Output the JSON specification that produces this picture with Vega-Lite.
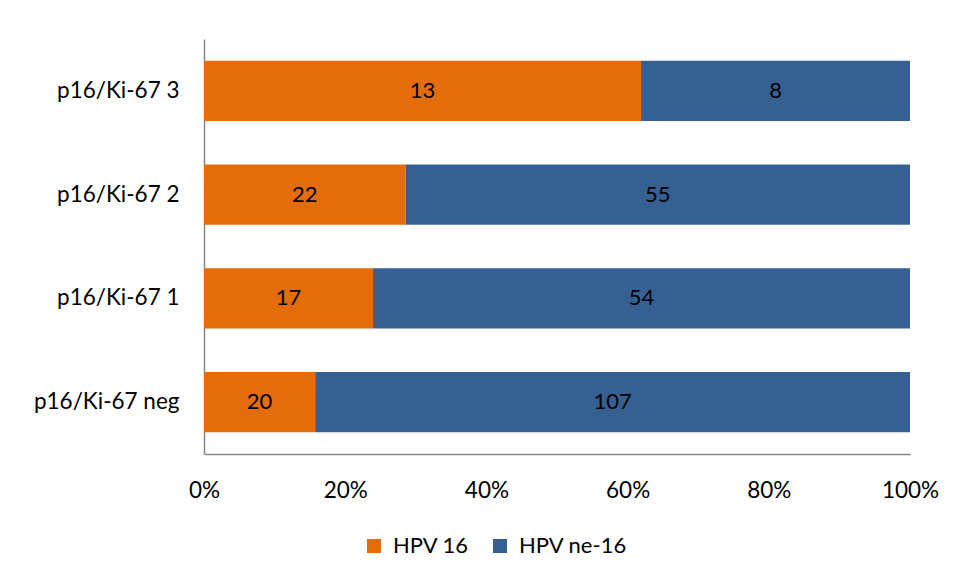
{
  "$schema": "https://vega.github.io/schema/vega-lite/v6.json",
  "autosize": {"type": "none"},
  "width": 706,
  "height": 415,
  "padding": {"left": 204, "top": 39, "right": 49, "bottom": 125},
  "background": "white",
  "config": {
    "font": "Lato",
    "view": {"stroke": null},
    "axis": {"labelFont": "Lato", "labelFontSize": 22.5, "labelColor": "#000000", "grid": false, "ticks": false, "domainColor": "#868686", "domainWidth": 1.5, "title": null},
    "legend": {"labelFont": "Lato", "labelFontSize": 22, "labelColor": "#000000"}
  },
  "data": {
    "values": [
      {"group": "p16/Ki-67 3", "type": "HPV 16", "count": 13},
      {"group": "p16/Ki-67 3", "type": "HPV ne-16", "count": 8},
      {"group": "p16/Ki-67 2", "type": "HPV 16", "count": 22},
      {"group": "p16/Ki-67 2", "type": "HPV ne-16", "count": 55},
      {"group": "p16/Ki-67 1", "type": "HPV 16", "count": 17},
      {"group": "p16/Ki-67 1", "type": "HPV ne-16", "count": 54},
      {"group": "p16/Ki-67 neg", "type": "HPV 16", "count": 20},
      {"group": "p16/Ki-67 neg", "type": "HPV ne-16", "count": 107}
    ]
  },
  "transform": [
    {"joinaggregate": [{"op": "sum", "field": "count", "as": "total"}], "groupby": ["group"]},
    {"window": [{"op": "sum", "field": "count", "as": "cum"}], "groupby": ["group"], "sort": [{"field": "type", "order": "ascending"}], "frame": [null, 0]},
    {"calculate": "(datum.cum - datum.count / 2) / datum.total", "as": "mid"}
  ],
  "encoding": {
    "y": {
      "field": "group", "type": "nominal",
      "sort": ["p16/Ki-67 3", "p16/Ki-67 2", "p16/Ki-67 1", "p16/Ki-67 neg"],
      "scale": {"paddingInner": 0.42, "paddingOuter": 0.21},
      "axis": {"labelPadding": 25, "domain": true}
    }
  },
  "layer": [
    {
      "mark": {"type": "bar"},
      "encoding": {
        "x": {
          "field": "count", "type": "quantitative", "stack": "normalize",
          "scale": {"domain": [0, 1]},
          "axis": {"format": "%", "values": [0, 0.2, 0.4, 0.6, 0.8, 1], "labelPadding": 25, "labelFlush": false, "domain": true}
        },
        "color": {
          "field": "type", "type": "nominal",
          "scale": {"domain": ["HPV 16", "HPV ne-16"], "range": ["#E46C0A", "#376092"]},
          "legend": {
            "title": null, "orient": "none", "direction": "horizontal",
            "legendX": 159, "legendY": 496,
            "symbolType": "square", "symbolSize": 196, "symbolStrokeWidth": 0,
            "columnPadding": 20, "labelOffset": 8
          }
        },
        "order": {"field": "type", "sort": "ascending"}
      }
    },
    {
      "mark": {"type": "text", "fontSize": 22, "color": "#000000", "font": "Lato"},
      "encoding": {
        "x": {"field": "mid", "type": "quantitative"},
        "text": {"field": "count", "type": "quantitative"}
      }
    }
  ]
}
